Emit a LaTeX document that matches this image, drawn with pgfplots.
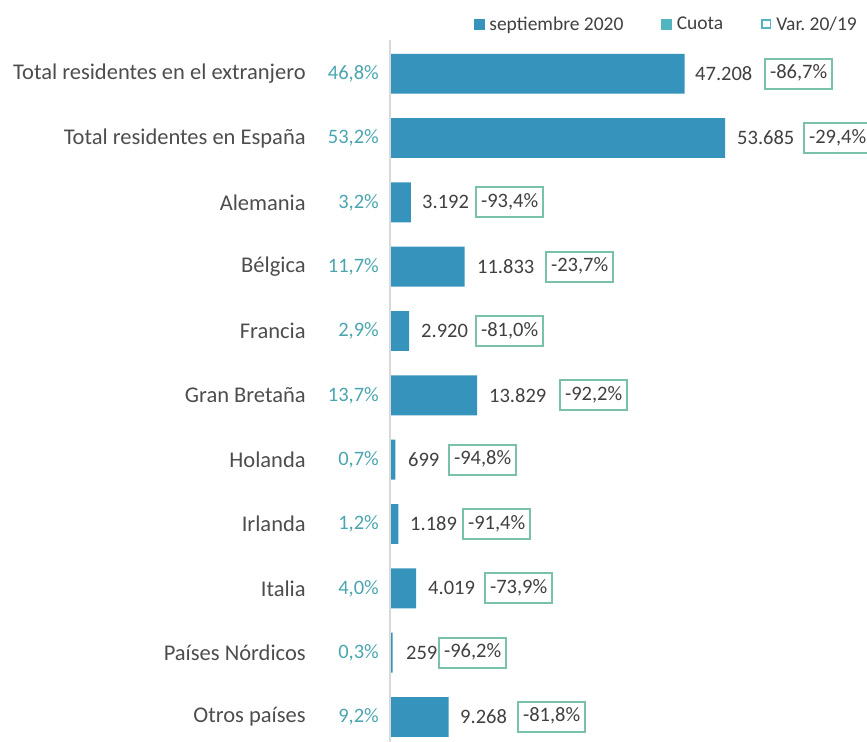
\documentclass[border=0pt]{standalone}
\usepackage{pgfplots}
\pgfplotsset{compat=1.18}
\usepackage{pgfplotstable}
\usepackage{fontspec}
\setmainfont{Carlito}
\frenchspacing
\definecolor{barblue}{HTML}{3593BC}
\definecolor{cuotac}{HTML}{4AA5AF}
\definecolor{cuotaleg}{HTML}{52B4BF}
\definecolor{boxc}{HTML}{79C1A9}
\definecolor{txt}{HTML}{404040}
\definecolor{cat}{HTML}{4D4D4D}

% row, value, cuota (%), var 20/19 (%), label left edge (px), box left edge (px)
\pgfplotstableread{
row value cuota var lab box
0 47208 46.8 -86.7 695 763
1 53685 53.2 -29.4 737 802
2 3192 3.2 -93.4 422 474
3 11833 11.7 -23.7 477 544
4 2920 2.9 -81.0 421 474
5 13829 13.7 -92.2 489 558
6 699 0.7 -94.8 408 447
7 1189 1.2 -91.4 410 461
8 4019 4.0 -73.9 428 483
9 259 0.3 -96.2 406 437
10 9268 9.2 -81.8 460 516
}\data

\begin{document}
\begin{tikzpicture}
\useasboundingbox (0,0) rectangle (867bp,742bp);
\begin{axis}[
  at={(391bp,0bp)}, anchor=south west,
  scale only axis, width=476bp, height=702bp,
  xmin=0, xmax=76500,
  ymin=-0.524, ymax=10.389, y dir=reverse,
  enlargelimits=false, clip=false,
  axis x line=none, axis y line=left,
  y axis line style={-, draw=gray!30, line width=2bp, xshift=-1bp},
  xtick=\empty,
  ytick={0,...,10},
  ytick style={draw=none},
  yticklabels={Total residentes en el extranjero, Total residentes en España, Alemania, Bélgica, Francia, Gran Bretaña, Holanda, Irlanda, Italia, Países Nórdicos, Otros países},
  yticklabel style={anchor=east, inner sep=0pt, xshift=-83bp, text=cat, font=\fontsize{22.5bp}{26bp}\selectfont},
  /pgf/number format/assume math mode=true,
  legend columns=3,
  legend style={draw=none, fill=none, at={(axis description cs:1,1)}, anchor=east, xshift=-2bp, yshift=16bp,
    font=\fontsize{19.5bp}{22bp}\selectfont, text=txt,
    /tikz/every even column/.append style={column sep=33bp},
    nodes={inner xsep=5bp}},
]
\addlegendimage{legend image code/.code={\fill[barblue] (0cm,-0.17cm) rectangle (0.35cm,0.17cm);}}
\addlegendentry{septiembre 2020}
\addlegendimage{legend image code/.code={\fill[cuotaleg] (0cm,-0.17cm) rectangle (0.35cm,0.17cm);}}
\addlegendentry{Cuota}
\addlegendimage{legend image code/.code={\draw[cuotaleg, line width=0.05cm] (0.025cm,-0.145cm) rectangle (0.325cm,0.145cm);}}
\addlegendentry{Var. 20/19}

% bars
\addplot[xbar, bar width=0.62, fill=barblue, draw=none, forget plot] table[x=value, y=row] {\data};

% value labels
\addplot[draw=none, mark=none, forget plot, point meta=explicit,
  nodes near coords={\pgfmathprintnumber[1000 sep={.}]{\pgfplotspointmeta}},
  nodes near coords style={anchor=west, inner sep=0pt, xshift=0pt, yshift=0pt, text=txt, font=\fontsize{20.5bp}{23bp}\selectfont}]
  table[x expr={(\thisrow{lab}-391)/0.0062215}, y=row, meta=value] {\data};

% cuota labels
\addplot[draw=none, mark=none, forget plot, point meta=explicit,
  nodes near coords={\pgfmathprintnumber[fixed, fixed zerofill, precision=1, use comma]{\pgfplotspointmeta}\%},
  nodes near coords style={anchor=east, inner sep=0pt, xshift=-12bp, yshift=0pt, text=cuotac, font=\fontsize{20.5bp}{23bp}\selectfont}]
  table[x expr=0, y=row, meta=cuota] {\data};

% var boxes
\addplot[draw=none, mark=none, forget plot, point meta=explicit,
  nodes near coords={\pgfmathprintnumber[fixed, fixed zerofill, precision=1, use comma]{\pgfplotspointmeta}\%},
  nodes near coords style={anchor=west, draw=boxc, line width=2bp, inner xsep=5bp, inner ysep=0pt,
    text height=14.5bp, text depth=4.5bp, minimum height=30bp, xshift=1bp, yshift=0pt, text=txt, font=\fontsize{20.5bp}{23bp}\selectfont}]
  table[x expr={(\thisrow{box}-391)/0.0062215}, y=row, meta=var] {\data};
\end{axis}
\end{tikzpicture}
\end{document}
